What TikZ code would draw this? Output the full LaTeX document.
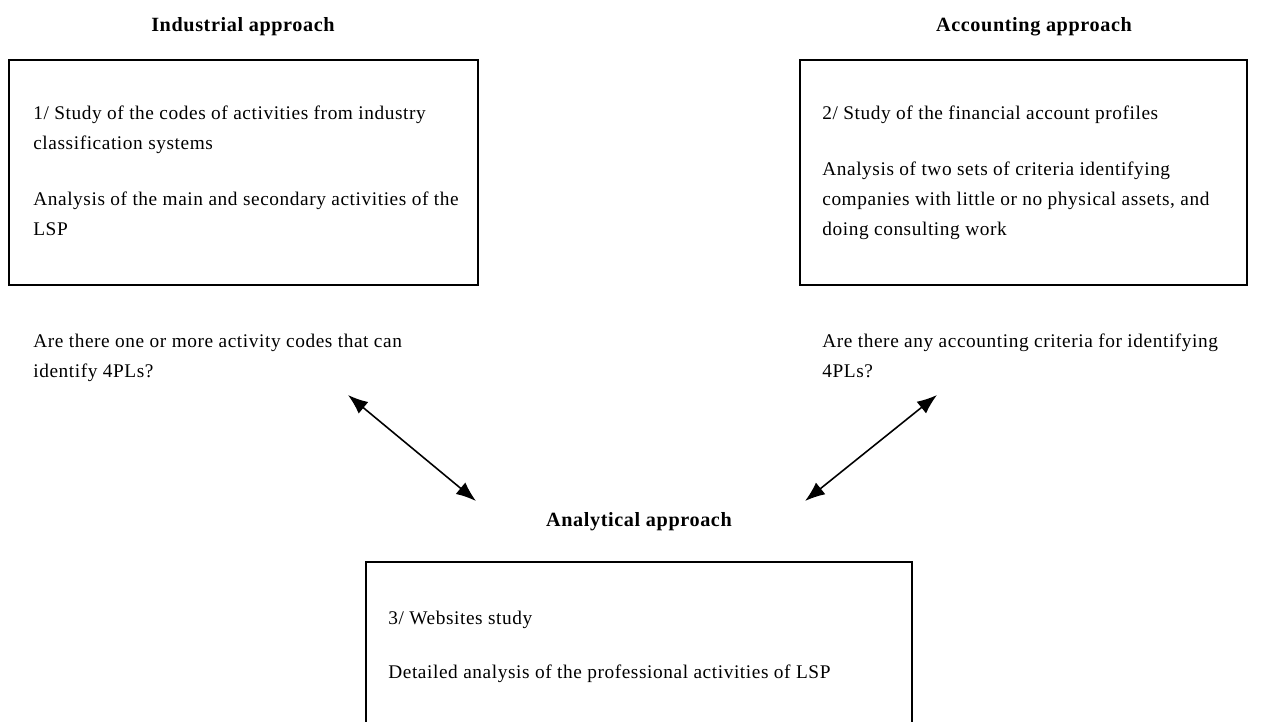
\documentclass[tikz,border=0pt]{standalone}
\usepackage{fontspec}
\setmainfont{Liberation Serif}[LetterSpace=3]
\usetikzlibrary{arrows.meta}

\begin{document}
\begin{tikzpicture}[
        x=0.02cm, y=-0.02cm,
        >={Latex[length=4mm,width=3mm]},
        title/.style={font=\fontsize{11.5}{13}\selectfont\bfseries, inner sep=0},
        frame/.style={draw, line width=1pt, minimum width=#1},
        body/.style={align=left, inner sep=0, anchor=north west, font=\fontsize{11}{17}\selectfont},
        link/.style={<->, line width=0.9pt}
    ]
        \useasboundingbox (0,0) rectangle (1271,721);
        \clip (0,0) rectangle (1271,721);

        % Titles
        \node (industrial) [title] at (243,27) {Industrial approach};
        \node (accounting) [title] at (1034,27) {Accounting approach};
        \node (analytical) [title] at (639,522) {Analytical approach};

        % Boxes
        \node (box1) [frame=9.38cm, minimum height=4.5cm] at (243.5,172.5) {};
        \node (box2) [frame=8.94cm, minimum height=4.5cm] at (1023.5,172.5) {};
        \node (box3) [frame=10.92cm, minimum height=4cm] at (639,662) {};

        % Box contents
        \node (study1) [body] at (33,106) {1/ Study of the codes of activities from industry\\classification systems};
        \node (main1) [body] at (33,192) {Analysis of the main and secondary activities of the\\LSP};
        \node (study2) [body] at (822,106) {2/ Study of the financial account profiles};
        \node (main2) [body] at (822,162) {Analysis of two sets of criteria identifying\\companies with little or no physical assets, and\\doing consulting work};
        \node (study3) [body] at (388,611) {3/ Websites study};
        \node (main3) [body] at (388,665) {Detailed analysis of the professional activities of LSP};

        % Questions
        \node (ask1) [body] at (33,334) {Are there one or more activity codes that can\\identify 4PLs?};
        \node (ask2) [body] at (822,334) {Are there any accounting criteria for identifying\\4PLs?};

        % Arrows
        \coordinate (tip1) at (348,395);
        \coordinate (tip2) at (937,395);
        \coordinate (end1) at (476,501);
        \coordinate (end2) at (805,501);
        \draw[link] (tip1) -- (end1);
        \draw[link] (tip2) -- (end2);
    \end{tikzpicture}
\end{document}
